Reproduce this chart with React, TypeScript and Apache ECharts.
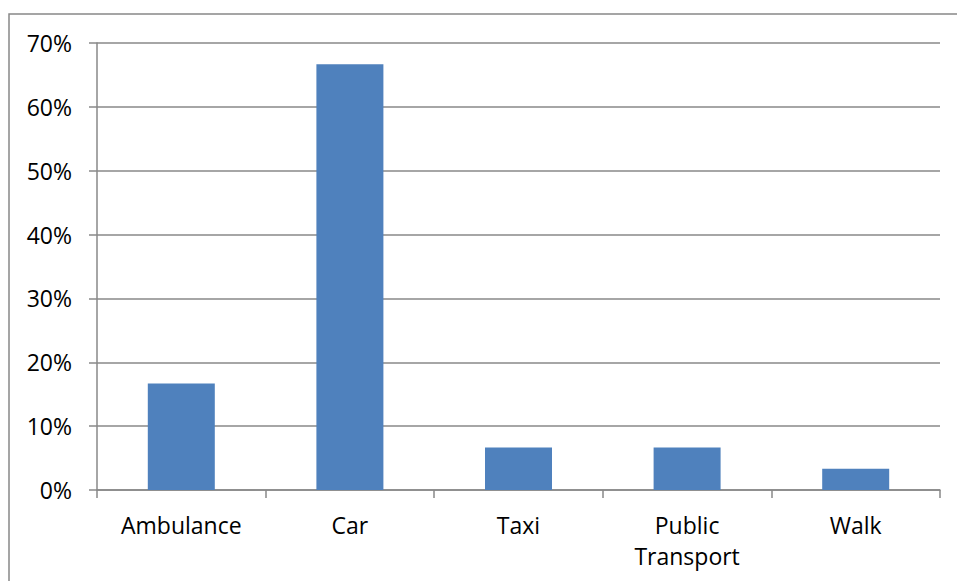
import React, { useEffect, useRef } from "react";
import * as echarts from "echarts";

const categories = ["Ambulance", "Car", "Taxi", "Public\nTransport", "Walk"];
const shares = [5 / 30, 20 / 30, 2 / 30, 2 / 30, 1 / 30];
const yTicks = { min: 0, max: 0.7, interval: 0.1 };

const AXIS_GRAY = "#888888";
const BAR_BLUE = "#4F81BD";
const FONT = "'Open Sans', 'Liberation Sans', sans-serif";

export default function App() {
  const ref = useRef<HTMLDivElement>(null);

  useEffect(() => {
    if (!ref.current) return;
    const chart = echarts.init(ref.current, undefined, { renderer: "svg" });
    chart.setOption({
      animation: false,
      backgroundColor: "#ffffff",
      textStyle: { fontFamily: FONT },
      graphic: [
        {
          type: "rect",
          shape: { x: 9, y: 14, width: 1200, height: 1200 },
          style: { fill: "none", stroke: AXIS_GRAY, lineWidth: 1.5 },
          silent: true,
        },
      ],
      grid: { left: 97, right: 17, top: 43, bottom: 91, containLabel: false },
      xAxis: {
        type: "category",
        data: categories,
        axisLine: { lineStyle: { color: AXIS_GRAY, width: 1.5 } },
        axisTick: {
          show: true,
          alignWithLabel: false,
          length: 8,
          lineStyle: { color: AXIS_GRAY, width: 1.5 },
        },
        axisLabel: {
          color: "#000000",
          fontSize: 23,
          fontFamily: FONT,
          margin: 19,
          lineHeight: 31,
          interval: 0,
        },
      },
      yAxis: {
        type: "value",
        min: yTicks.min,
        max: yTicks.max,
        interval: yTicks.interval,
        axisLine: { show: true, lineStyle: { color: AXIS_GRAY, width: 1.5 } },
        axisTick: { show: true, length: 8, lineStyle: { color: AXIS_GRAY, width: 1.5 } },
        splitLine: { show: true, lineStyle: { color: AXIS_GRAY, width: 1.5 } },
        axisLabel: {
          color: "#000000",
          fontSize: 23,
          fontFamily: FONT,
          margin: 25,
          formatter: (v: number) => `${Math.round(v * 100)}%`,
        },
      },
      series: [
        {
          type: "bar",
          data: shares,
          barWidth: 67,
          itemStyle: { color: BAR_BLUE },
        },
      ],
    });
    return () => chart.dispose();
  }, []);

  return <div ref={ref} style={{ width: 957, height: 581, position: "absolute", left: 0, top: 0 }} />;
}
